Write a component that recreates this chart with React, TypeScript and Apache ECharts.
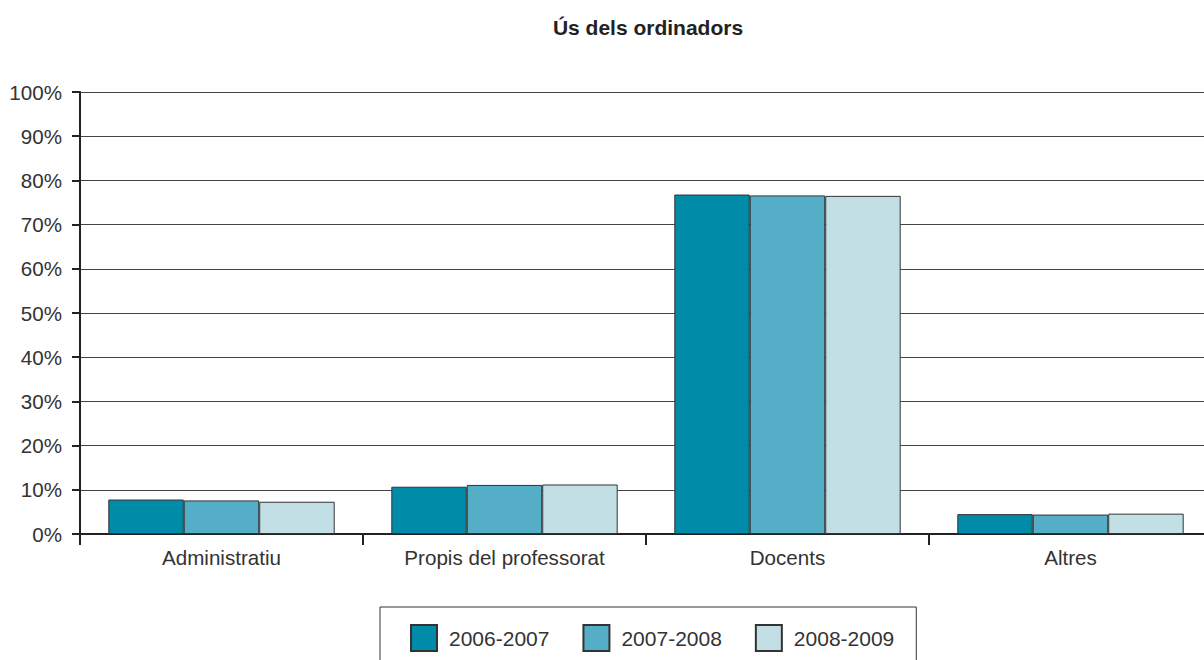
import React, { useEffect, useRef } from "react";
import * as echarts from "echarts";

const categories = ["Administratiu", "Propis del professorat", "Docents", "Altres"];
const seriesNames = ["2006-2007", "2007-2008", "2008-2009"];
const values2006 = [7.8, 10.7, 76.8, 4.5];
const values2007 = [7.6, 11.1, 76.6, 4.4];
const values2008 = [7.3, 11.2, 76.5, 4.6];
const colors = ["#008BA8", "#55AEC8", "#C2DFE6"];
const yTicks = [0, 10, 20, 30, 40, 50, 60, 70, 80, 90, 100];

export default function App() {
  const ref = useRef<HTMLDivElement>(null);
  useEffect(() => {
    document.body.style.margin = "0";
    document.body.style.overflow = "hidden";
    const chart = echarts.init(ref.current!, null, { renderer: "svg" });
    const font = "'Liberation Sans', Arial, Helvetica, sans-serif";
    const data = [values2006, values2007, values2008];
    chart.setOption({
      animation: false,
      backgroundColor: "#ffffff",
      title: {
        text: "Ús dels ordinadors",
        left: 643,
        textAlign: "center",
        top: 12,
        textStyle: { fontFamily: font, fontSize: 21, fontWeight: "bold", color: "#222" },
      },
      grid: { left: 80, right: 0, top: 92, height: 442, containLabel: false },
      xAxis: {
        type: "category",
        data: categories,
        axisLine: { lineStyle: { color: "#222", width: 2 } },
        axisTick: { show: true, length: 11, lineStyle: { color: "#222", width: 2 } },
        axisLabel: { margin: 13, fontFamily: font, fontSize: 20.6, color: "#333" },
      },
      yAxis: {
        type: "value",
        min: 0,
        max: 100,
        interval: 10,
        axisLine: { show: true, lineStyle: { color: "#222", width: 2 } },
        axisTick: { show: true, length: 8, lineStyle: { color: "#222", width: 2 } },
        axisLabel: {
          margin: 18,
          fontFamily: font,
          fontSize: 20.6,
          color: "#333",
          formatter: (v: number) => (yTicks.includes(v) ? v + "%" : ""),
        },
        splitLine: { show: true, lineStyle: { color: "#444", width: 1 } },
      },
      legend: {
        left: 380,
        top: 607,
        orient: "horizontal",
        padding: [17, 22, 30, 30],
        itemWidth: 26,
        itemHeight: 26,
        itemGap: 33,
        borderColor: "#333",
        borderWidth: 1,
        icon: "rect",
        textStyle: { fontFamily: font, fontSize: 21, color: "#333", padding: [0, 0, 0, 7] },
        data: seriesNames,
      },
      series: seriesNames.map((name, i) => ({
        name,
        type: "bar",
        data: data[i],
        barGap: "0%",
        barCategoryGap: "20%",
        itemStyle: { color: colors[i], borderColor: "#333", borderWidth: 1 },
      })),
    });
    return () => chart.dispose();
  }, []);
  return <div ref={ref} style={{ width: 1212, height: 660 }} />;
}
